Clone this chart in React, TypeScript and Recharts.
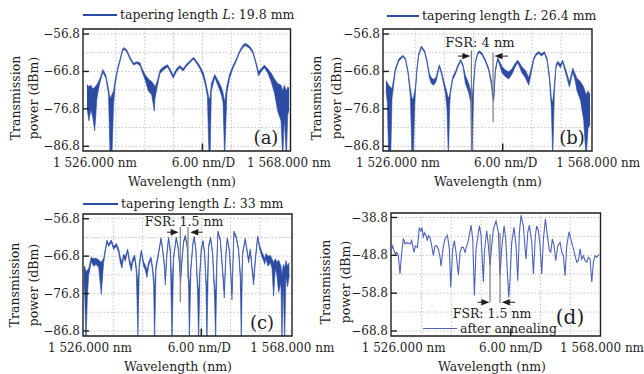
import {
  Area,
  CartesianGrid,
  ComposedChart,
  Line,
  ReferenceArea,
  ReferenceLine,
  XAxis,
  YAxis,
} from "recharts"

const FONT = "'DejaVu Serif', 'Liberation Serif', serif"
const INK = "#1e1e1e"
const TRACE = "#2c4ca3"
const TRACE_D = "#4f63bb"
const GRID = "#c4c4c4"

// wavelength axis: 1 526 nm .. 1 568 nm, 6 nm per division
const xTicks = [1526, 1550, 1568]
const xTickText: Record<number, string> = {
  1526: "1 526.000 nm",
  1550: "6.00 nm/D",
  1568: "1 568.000 nm",
}
const xGrid = [1532, 1538, 1544, 1550, 1556, 1562]

const yTicksLow = [-56.8, -66.8, -76.8, -86.8]
const yGridLow = [-56.8, -61.8, -66.8, -71.8, -76.8, -81.8, -86.8]
const yTicksD = [-38.8, -48.8, -58.8, -68.8]
const yGridD = [-38.8, -43.8, -48.8, -53.8, -58.8, -63.8, -68.8]

// (a) L = 19.8 mm : upper / lower edge of the noisy trace (dBm)
const waveA = [
  1526.0, 1526.4, 1526.8, 1527.2, 1527.6, 1528.07, 1528.4, 1528.76, 1529.31, 1529.93,
  1530.48, 1530.8, 1531.17, 1531.52, 1531.86, 1532.41, 1532.9, 1533.38, 1533.72, 1534.28,
  1534.97, 1535.66, 1536.34, 1537.03, 1537.38, 1538.07, 1538.76, 1539.45, 1540.0, 1540.14,
  1540.69, 1541.17, 1541.86, 1542.76, 1543.24, 1543.93, 1544.62, 1545.31, 1546.0, 1546.69,
  1547.38, 1548.14, 1548.76, 1549.45, 1550.14, 1550.62, 1551.03, 1551.38, 1551.59, 1551.86,
  1552.55, 1553.24, 1553.93, 1554.28, 1554.62, 1555.1, 1555.66, 1556.34, 1557.03, 1557.72,
  1558.41, 1558.9, 1559.79, 1560.48, 1561.17, 1561.66, 1562.21, 1562.9, 1563.59, 1564.28,
  1564.97, 1565.66, 1566.34, 1566.69, 1567.03, 1567.45, 1567.72, 1568.0,
]
const hiA = [
  -70.3, -70.8, -70.5, -71.5, -71.0, -70.3, -69.5, -68.4, -66.3, -67.8,
  -71.5, -74, -73, -72.0, -69.0, -65.6, -63.4, -60.8, -60.4, -61.1,
  -63.0, -64.6, -64.2, -64.5, -65.8, -67.6, -68.8, -69.5, -70.5, -71.0,
  -69.0, -66.5, -65.6, -65.0, -66.1, -67.8, -66.1, -65.2, -66.1, -64.8,
  -64.0, -63.0, -64.0, -65.3, -67.0, -69.2, -71.8, -74, -74, -70.0,
  -67.6, -69.2, -71.0, -72.5, -75, -70.5, -67.5, -65.3, -63.5, -61.3,
  -59.8, -59.3, -60.0, -61.3, -64.4, -66.8, -66.1, -65.1, -66.1, -67.2,
  -68.8, -70.0, -70.5, -72, -70.5, -72, -71.0, -71.2,
]
const loA = [
  -76.5, -80.0, -77.0, -79.0, -82.7, -74.0, -71.5, -69.4, -67.0, -68.6,
  -73.0, -90, -90, -76.0, -70.3, -66.3, -64.0, -61.4, -60.9, -61.6,
  -63.6, -65.1, -64.7, -65.2, -66.6, -69.0, -72.0, -73.0, -77.4, -74.0,
  -70.3, -67.4, -66.4, -65.6, -66.8, -68.6, -66.8, -65.8, -66.7, -65.4,
  -64.5, -63.5, -64.6, -66.0, -68.2, -70.5, -73.5, -90, -90, -72.0,
  -68.4, -70.6, -73.0, -75.0, -90, -72.5, -68.6, -66.0, -64.1, -61.8,
  -60.4, -59.9, -60.6, -61.9, -65.1, -68.0, -66.8, -65.8, -67.2, -69.5,
  -72.5, -77.5, -80.0, -90, -79.0, -90, -78.5, -77.0,
]

// (b) L = 26.4 mm
const waveB = [
  1526.0, 1526.27, 1526.55, 1526.96, 1527.23, 1527.92, 1528.61, 1529.43, 1529.98, 1530.53,
  1531.01, 1531.35, 1531.62, 1531.9, 1532.04, 1532.38, 1532.72, 1533.27, 1533.96, 1534.44,
  1534.92, 1535.33, 1535.81, 1536.29, 1536.97, 1537.39, 1537.87, 1538.21, 1538.55, 1538.83,
  1539.1, 1539.24, 1539.72, 1540.27, 1540.81, 1541.36, 1541.84, 1542.32, 1543.01, 1543.42,
  1543.7, 1544.04, 1544.38, 1544.86, 1545.2, 1545.75, 1546.44, 1547.12, 1547.67, 1547.95,
  1548.16, 1548.5, 1548.98, 1549.32, 1549.87, 1550.55, 1551.24, 1551.93, 1552.47, 1553.09,
  1553.43, 1553.98, 1554.67, 1555.36, 1555.9, 1556.38, 1556.86, 1557.41, 1557.96, 1558.58,
  1559.13, 1559.61, 1560.02, 1560.3, 1560.64, 1560.98, 1561.32, 1561.87, 1562.35, 1562.76,
  1563.24, 1563.72, 1564.41, 1564.82, 1565.3, 1565.99, 1566.67, 1567.15, 1567.56, 1567.97,
]
const hiB = [
  -69.2, -69.8, -70.5, -71.0, -71.5, -66.0, -63.5, -62.5, -63.2, -66.6,
  -71.5, -74, -74, -72, -71.0, -65.6, -62.0, -60.0, -61.3, -63.8,
  -67.4, -68.5, -69.0, -68.3, -65.0, -66.6, -69.2, -70.8, -72.5, -74,
  -73, -71.8, -68.2, -66.8, -65.0, -63.6, -65.0, -67.8, -70.0, -72.0,
  -74, -69.0, -64.0, -61.8, -61.3, -61.9, -63.6, -65.9, -69.2, -72.5,
  -73.5, -66.0, -63.1, -64.0, -65.5, -66.4, -66.9, -66.1, -64.8, -63.8,
  -64.4, -65.6, -66.5, -68.4, -65.8, -63.2, -62.0, -61.5, -62.1, -61.5,
  -63.3, -67.6, -74.0, -75, -70.0, -65.0, -64.1, -64.9, -63.8, -65.5,
  -67.4, -69.6, -65.9, -67.2, -68.7, -69.5, -71.0, -73, -72.0, -73.0,
]
const loB = [
  -72.0, -75.0, -90, -90, -74.0, -66.8, -64.1, -62.9, -63.7, -67.4,
  -73.5, -90, -90, -76, -72.5, -66.6, -62.7, -60.5, -61.8, -64.6,
  -68.5, -70.0, -70.5, -69.5, -65.6, -67.4, -70.4, -72.5, -77.0, -90,
  -76, -73.0, -69.0, -67.6, -65.6, -64.1, -65.6, -70.0, -72.5, -75.0,
  -90, -70.8, -64.6, -62.3, -61.8, -62.4, -64.2, -66.6, -70.4, -74.0,
  -74.8, -67.0, -63.6, -64.9, -67.2, -68.2, -68.8, -67.5, -65.8, -64.5,
  -65.5, -67.2, -68.5, -70.5, -67.0, -63.8, -62.5, -62.0, -62.7, -62.0,
  -64.0, -69.0, -77.0, -90, -72.0, -65.8, -64.7, -65.8, -64.4, -66.5,
  -68.6, -71.0, -67.0, -68.8, -72.0, -74.5, -80.0, -90, -82.0, -81.0,
]

// (c) L = 33 mm
const waveC = [
  1526.0, 1526.14, 1526.41, 1526.68, 1526.95, 1527.5, 1527.98, 1528.45, 1529.0, 1529.54,
  1530.02, 1530.7, 1531.04, 1531.59, 1532.07, 1532.61, 1533.09, 1533.43, 1533.77, 1534.11,
  1534.45, 1534.93, 1535.27, 1535.68, 1535.95, 1536.36, 1536.7, 1537.04, 1537.32, 1537.72,
  1538.2, 1538.54, 1538.88, 1539.22, 1539.7, 1540.04, 1540.25, 1540.45, 1540.72, 1541.13,
  1541.75, 1542.09, 1542.5, 1542.63, 1542.97, 1543.31, 1543.65, 1544.0, 1544.34, 1544.88,
  1545.22, 1545.5, 1545.77, 1546.04, 1546.38, 1546.72, 1547.13, 1547.4, 1547.54, 1547.88,
  1548.29, 1548.56, 1548.9, 1549.24, 1549.45, 1549.72, 1549.99, 1550.34, 1550.68, 1550.95,
  1551.15, 1551.49, 1551.9, 1552.31, 1552.72, 1552.93, 1553.2, 1553.4, 1553.88, 1554.36,
  1554.7, 1555.04, 1555.31, 1555.72, 1556.13, 1556.27, 1556.67, 1557.15, 1557.63, 1557.97,
  1558.17, 1558.45, 1558.99, 1559.33, 1559.67, 1560.02, 1560.36, 1560.7, 1561.04, 1561.52,
  1561.92, 1562.4, 1562.74, 1562.95, 1563.22, 1563.63, 1564.11, 1564.45, 1564.79, 1565.13,
  1565.47, 1565.81, 1566.29, 1566.49, 1566.76, 1567.04, 1567.31, 1567.65, 1568.0,
]
const hiC = [
  -70.0, -69.5, -71, -70.5, -70.2, -67.0, -67.5, -67.3, -67.8, -68.4,
  -67.4, -62.5, -63.6, -62.5, -64.2, -63.4, -64.8, -67.0, -68.4, -66.2,
  -67.0, -64.9, -67.4, -69.2, -67.5, -66.5, -69.5, -74.0, -68.5, -65.2,
  -68.4, -69.2, -70.6, -68.4, -67.0, -69.7, -72.8, -75, -69.3, -66.6,
  -61.9, -64.7, -69.3, -73.0, -65.7, -61.7, -64.8, -75, -66.6, -61.7,
  -63.9, -67.5, -72.5, -67.5, -62.6, -61.2, -63.9, -72.8, -75, -69.3,
  -63.0, -61.5, -64.8, -74.6, -76, -70.2, -64.8, -62.6, -65.7, -72.8,
  -76, -63.9, -61.7, -65.7, -75.5, -76, -67.0, -60.1, -62.1, -70.2,
  -76.0, -65.7, -61.9, -64.8, -72.8, -76.5, -60.1, -61.5, -64.8, -71.0,
  -76, -65.7, -62.0, -64.8, -67.5, -64.9, -69.3, -72.8, -67.5, -61.4,
  -63.9, -65.7, -66.6, -67.5, -66.1, -66.8, -66.6, -67.5, -68.5, -67.5,
  -68.5, -67.8, -69.5, -72, -69.0, -70, -68.0, -69.5, -68.5,
]
const loC = [
  -74.0, -76.5, -90, -78.0, -72.0, -68.2, -69.5, -69.0, -69.8, -77.0,
  -68.5, -63.0, -64.2, -63.1, -65.0, -64.1, -65.8, -68.5, -70.0, -67.0,
  -68.2, -65.5, -68.5, -70.8, -68.5, -67.5, -71.0, -88.0, -70.0, -65.8,
  -69.5, -70.5, -72.5, -69.5, -67.6, -71.0, -74.5, -90, -70.5, -67.3,
  -62.4, -65.4, -70.5, -74.5, -66.4, -62.2, -66.0, -90, -67.4, -62.2,
  -64.6, -68.6, -74.0, -68.6, -63.2, -61.7, -64.6, -75.0, -90, -70.5,
  -63.6, -62.0, -65.6, -77.0, -90, -71.5, -65.5, -63.1, -66.6, -75.0,
  -90, -64.6, -62.2, -66.6, -78.0, -90, -68.2, -60.6, -62.7, -71.5,
  -78.0, -66.5, -62.4, -65.5, -74.5, -78.5, -60.6, -62.1, -65.5, -73.0,
  -90, -66.5, -62.5, -65.5, -68.6, -65.6, -70.5, -74.5, -68.6, -61.9,
  -64.8, -67.0, -68.0, -69.0, -67.5, -69.5, -68.5, -70.0, -77.5, -70.0,
  -72.0, -76.5, -74.0, -90, -73.0, -90, -72.0, -75.0, -72.0,
]

// (d) after annealing: single clean trace (dBm)
const waveD = [
  1526.0, 1526.2, 1526.47, 1526.74, 1527.01, 1527.34, 1527.68, 1528.02, 1528.35, 1528.69,
  1529.03, 1529.36, 1529.7, 1530.03, 1530.5, 1530.77, 1531.18, 1531.58, 1531.85, 1532.12,
  1532.39, 1532.59, 1532.92, 1533.19, 1533.39, 1533.73, 1534.07, 1534.4, 1534.74, 1535.08,
  1535.41, 1535.75, 1535.95, 1536.42, 1536.76, 1537.23, 1537.63, 1537.9, 1538.3, 1538.64,
  1538.97, 1539.45, 1539.78, 1540.12, 1540.45, 1540.79, 1541.13, 1541.46, 1542.0, 1542.34,
  1542.67, 1543.01, 1543.68, 1544.02, 1544.49, 1544.69, 1545.16, 1545.5, 1545.83, 1546.17,
  1546.5, 1547.04, 1547.51, 1547.85, 1548.18, 1548.66, 1548.99, 1549.33, 1549.6, 1549.87,
  1550.2, 1550.67, 1551.08, 1551.41, 1551.75, 1552.08, 1552.55, 1552.89, 1553.09, 1553.43,
  1553.76, 1554.24, 1554.57, 1554.97, 1555.24, 1555.58, 1555.92, 1556.25, 1556.59, 1556.99,
  1557.39, 1557.8, 1558.07, 1558.4, 1558.74, 1559.08, 1559.48, 1559.95, 1560.29, 1560.62,
  1560.96, 1561.29, 1561.76, 1562.3, 1562.64, 1562.97, 1563.31, 1563.65, 1563.98, 1564.32,
  1564.66, 1564.99, 1565.33, 1565.66, 1566.0, 1566.34, 1566.67, 1567.01, 1567.34, 1567.88,
]
const powerD = [
  -47.1, -46.3, -47.6, -48.5, -48.0, -48.9, -53.7, -48.0, -44.3, -45.8,
  -45.4, -45.6, -45.8, -44.9, -48.0, -46.3, -46.7, -41.4, -42.3, -41.7,
  -44.1, -42.8, -43.5, -44.9, -43.6, -44.1, -46.3, -48.9, -46.3, -46.3,
  -47.1, -49.3, -51.7, -46.3, -44.5, -43.5, -47.1, -57.2, -47.1, -44.9,
  -48.0, -54.0, -48.0, -46.7, -46.7, -48.0, -46.3, -44.9, -40.8, -44.5,
  -59.4, -47.1, -41.0, -43.6, -55.9, -48.0, -42.3, -46.3, -51.5, -46.3,
  -41.9, -39.7, -42.8, -54.2, -47.1, -41.0, -44.5, -53.3, -59.9, -55.0,
  -45.4, -41.4, -46.3, -55.5, -42.8, -38.2, -41.0, -47.1, -49.8, -42.8,
  -40.8, -45.4, -53.7, -43.6, -41.0, -42.3, -46.3, -53.7, -44.5, -39.2,
  -43.6, -47.6, -48.0, -44.5, -46.3, -50.2, -46.3, -45.4, -48.0, -48.9,
  -54.2, -46.3, -42.6, -45.4, -47.1, -48.9, -50.6, -50.2, -47.1, -49.8,
  -48.9, -50.2, -50.6, -49.3, -49.8, -55.9, -50.6, -48.9, -49.3, -48.5,
]

// FSR markers (nm, dBm)
type Mark = { x: number; top: number; bottom: number }
type Arrow = { from: number; to: number; y: number }
const fsrLinesB: Mark[] = [
  { x: 1543.56, top: -61.2, bottom: -88 },
  { x: 1548.02, top: -61.8, bottom: -80.4 },
]
const fsrArrowsB: Arrow[] = [
  { from: 1540.8, to: 1543.35, y: -62.7 },
  { from: 1551.1, to: 1548.3, y: -62.7 },
]
const fsrLinesC: Mark[] = [
  { x: 1545.7, top: -59.0, bottom: -79.1 },
  { x: 1547.27, top: -59.0, bottom: -72.8 },
]
const fsrArrowsC: Arrow[] = [
  { from: 1543.0, to: 1545.36, y: -60.4 },
  { from: 1550.27, to: 1547.75, y: -60.4 },
]
const fsrLinesD: Mark[] = [
  { x: 1545.83, top: -43.2, bottom: -61.2 },
  { x: 1547.85, top: -42.8, bottom: -61.4 },
]
const fsrArrowsD: Arrow[] = [
  { from: 1543.3, to: 1545.7, y: -61.2 },
  { from: 1550.9, to: 1548.2, y: -61.2 },
]

type Panel = {
  box: [number, number, number, number] // left, top, right, bottom (px)
  xDomain: [number, number]
  yDomain: [number, number]
  yTicks: number[]
  yGrid: number[]
  wave: number[]
  hi?: number[]
  lo?: number[]
  power?: number[]
  lines: Mark[]
  arrows: Arrow[]
  shift: number[]
}

const panels: Panel[] = [
  {
    box: [83, 29, 290.5, 151],
    xDomain: [1525.17, 1568.31],
    yDomain: [-88.06, -55.46],
    yTicks: yTicksLow,
    yGrid: yGridLow,
    wave: waveA,
    hi: hiA,
    lo: loA,
    lines: [],
    arrows: [],
    shift: [8, 1, 0],
  },
  {
    box: [383, 29, 592, 151],
    xDomain: [1525.38, 1568.37],
    yDomain: [-88.06, -55.46],
    yTicks: yTicksLow,
    yGrid: yGridLow,
    wave: waveB,
    hi: hiB,
    lo: loB,
    lines: fsrLinesB,
    arrows: fsrArrowsB,
    shift: [12, 3, 8],
  },
  {
    box: [83, 214, 292, 336],
    xDomain: [1525.8, 1568.55],
    yDomain: [-88.14, -55.54],
    yTicks: yTicksLow,
    yGrid: yGridLow,
    wave: waveC,
    hi: hiC,
    lo: loC,
    lines: fsrLinesC,
    arrows: fsrArrowsC,
    shift: [6, -2, 3],
  },
  {
    box: [391, 213, 600.5, 336],
    xDomain: [1525.86, 1568.1],
    yDomain: [-70.12, -37.61],
    yTicks: yTicksD,
    yGrid: yGridD,
    wave: waveD,
    power: powerD,
    lines: fsrLinesD,
    arrows: fsrArrowsD,
    shift: [12, 0, 2],
  },
]

const Y_W = 60
const X_H = 30
const TOP = 10
const RIGHT = 50

function YTick({ x, y, payload }: any) {
  return (
    <g>
      <text x={x} y={y} dy={4} textAnchor="end" fontSize={12} fontFamily={FONT} fill={INK}>
        {Number(payload.value).toFixed(1).replace("-", "\u2212")}
      </text>
      <line x1={x + 3} x2={x + 9} y1={y} y2={y} stroke={INK} strokeWidth={1.4} />
    </g>
  )
}

function makeXTick(shift: number[]) {
  return function XTick({ x, y, payload }: any) {
    const i = xTicks.indexOf(payload.value)
    return (
      <text x={x + (shift[i] ?? 0)} y={y + 16} textAnchor="middle" fontSize={12} fontFamily={FONT} fill={INK}>
        {xTickText[payload.value]}
      </text>
    )
  }
}

function ArrowShape(props: any) {
  const { x1, y1, x2, y2 } = props
  const d = x2 > x1 ? 1 : -1
  return (
    <g>
      <line x1={x1} y1={y1} x2={x2 - d * 6} y2={y2} stroke={INK} strokeWidth={1} />
      <polygon points={`${x2},${y2} ${x2 - d * 8},${y2 - 3.2} ${x2 - d * 8},${y2 + 3.2}`} fill={INK} />
    </g>
  )
}

function SpectrumPanel({ p }: { p: Panel }) {
  const [l, t, r, b] = p.box
  const rows = p.wave.map((w, i) =>
    p.power ? { w, v: p.power[i] } : { w, band: [p.lo![i], p.hi![i]] }
  )
  const width = r - l + Y_W + RIGHT
  const height = b - t + X_H + TOP
  return (
    <div style={{ position: "absolute", left: l - Y_W, top: t - TOP }}>
      <ComposedChart
        width={width}
        height={height}
        data={rows}
        margin={{ top: TOP, right: RIGHT, bottom: 0, left: 0 }}
      >
        <CartesianGrid
          horizontalValues={p.yGrid}
          verticalValues={xGrid}
          stroke={GRID}
          strokeDasharray="1.5 2"
        />
        <XAxis
          type="number"
          dataKey="w"
          domain={p.xDomain}
          allowDataOverflow
          ticks={xTicks}
          interval={0}
          tick={makeXTick(p.shift)}
          tickLine={false}
          axisLine={false}
          tickSize={0}
          tickMargin={0}
          height={X_H}
        />
        <YAxis
          type="number"
          domain={p.yDomain}
          allowDataOverflow
          ticks={p.yTicks}
          interval={0}
          tick={<YTick />}
          tickLine={false}
          axisLine={false}
          tickSize={0}
          tickMargin={3}
          width={Y_W}
        />
        {p.power ? (
          <Line
            dataKey="v"
            type="linear"
            stroke={TRACE_D}
            strokeWidth={1.1}
            dot={false}
            activeDot={false}
            isAnimationActive={false}
          />
        ) : (
          <Area
            dataKey="band"
            type="linear"
            stroke={TRACE}
            strokeWidth={0.6}
            fill={TRACE}
            fillOpacity={1}
            dot={false}
            activeDot={false}
            isAnimationActive={false}
          />
        )}
        {p.lines.map((m, i) => (
          <ReferenceLine
            key={`l${i}`}
            segment={[
              { x: m.x, y: m.top },
              { x: m.x, y: m.bottom },
            ]}
            stroke="#7a7a7a"
            strokeWidth={1.2}
            ifOverflow="visible"
          />
        ))}
        {p.arrows.map((a, i) => (
          <ReferenceLine
            key={`a${i}`}
            segment={[
              { x: a.from, y: a.y },
              { x: a.to, y: a.y },
            ]}
            shape={ArrowShape}
            ifOverflow="visible"
          />
        ))}
        <ReferenceLine
          segment={[
            { x: 1550, y: p.yDomain[0] },
            { x: 1550, y: p.yDomain[0] + 2 },
          ]}
          stroke={INK}
          strokeWidth={1.5}
          ifOverflow="visible"
        />
        <ReferenceArea
          x1={p.xDomain[0]}
          x2={p.xDomain[1]}
          y1={p.yDomain[0]}
          y2={p.yDomain[1]}
          fill="none"
          stroke={INK}
          strokeWidth={1.4}
          ifOverflow="visible"
        />
      </ComposedChart>
    </div>
  )
}

function Txt({ x, y, size = 12.5, center = true, children }: any) {
  return (
    <div
      style={{
        position: "absolute",
        left: x,
        top: y,
        transform: center ? "translate(-50%, -50%)" : "translate(0, -50%)",
        fontSize: size,
        lineHeight: 1,
        whiteSpace: "nowrap",
      }}
    >
      {children}
    </div>
  )
}

function VTxt({ x, y, children }: any) {
  return (
    <div
      style={{
        position: "absolute",
        left: x,
        top: y,
        transform: "translate(-50%, -50%) rotate(-90deg)",
        fontSize: 12.5,
        lineHeight: 1,
        whiteSpace: "nowrap",
      }}
    >
      {children}
    </div>
  )
}

function Key({ x, y, w, color, thick, children }: any) {
  return (
    <>
      <div
        style={{
          position: "absolute",
          left: x,
          top: y - thick / 2,
          width: w,
          height: thick,
          background: color,
        }}
      />
      <Txt x={x + w + 3} y={y} center={false}>
        {children}
      </Txt>
    </>
  )
}

export default function App() {
  return (
    <div
      style={{
        position: "absolute",
        left: 0,
        top: 0,
        width: 644,
        height: 374,
        background: "#fff",
        fontFamily: FONT,
        color: INK,
        overflow: "hidden",
      }}
    >
      {panels.map((p, i) => (
        <SpectrumPanel key={i} p={p} />
      ))}

      <Key x={83} y={15} w={34} color={TRACE} thick={2}>
        tapering length <i>L</i>: 19.8 mm
      </Key>
      <Key x={387} y={16} w={32} color={TRACE} thick={2}>
        tapering length <i>L</i>: 26.4 mm
      </Key>
      <Key x={83} y={204} w={35} color={TRACE} thick={2}>
        tapering length <i>L</i>: 33 mm
      </Key>
      <Key x={423} y={328.5} w={34} color={TRACE_D} thick={1.2}>
        after annealing
      </Key>

      <VTxt x={16} y={98}>Transmission</VTxt>
      <VTxt x={34} y={98}>power (dBm)</VTxt>
      <VTxt x={317} y={98}>Transmission</VTxt>
      <VTxt x={337} y={98}>power (dBm)</VTxt>
      <VTxt x={15} y={285}>Transmission</VTxt>
      <VTxt x={34} y={285}>power (dBm)</VTxt>
      <VTxt x={326} y={282}>Transmission</VTxt>
      <VTxt x={346} y={282}>power (dBm)</VTxt>

      <Txt x={182} y={182}>Wavelength (nm)</Txt>
      <Txt x={488} y={182}>Wavelength (nm)</Txt>
      <Txt x={178} y={367}>Wavelength (nm)</Txt>
      <Txt x={492} y={367}>Wavelength (nm)</Txt>

      <Txt x={266} y={138} size={18}>(a)</Txt>
      <Txt x={572} y={138} size={18}>(b)</Txt>
      <Txt x={262} y={323} size={18}>(c)</Txt>
      <Txt x={570} y={317} size={20}>(d)</Txt>

      <Txt x={480} y={42} size={13}>FSR: 4 nm</Txt>
      <Txt x={184} y={222}>FSR: 1.5 nm</Txt>
      <Txt x={492} y={314}>FSR: 1.5 nm</Txt>
    </div>
  )
}
